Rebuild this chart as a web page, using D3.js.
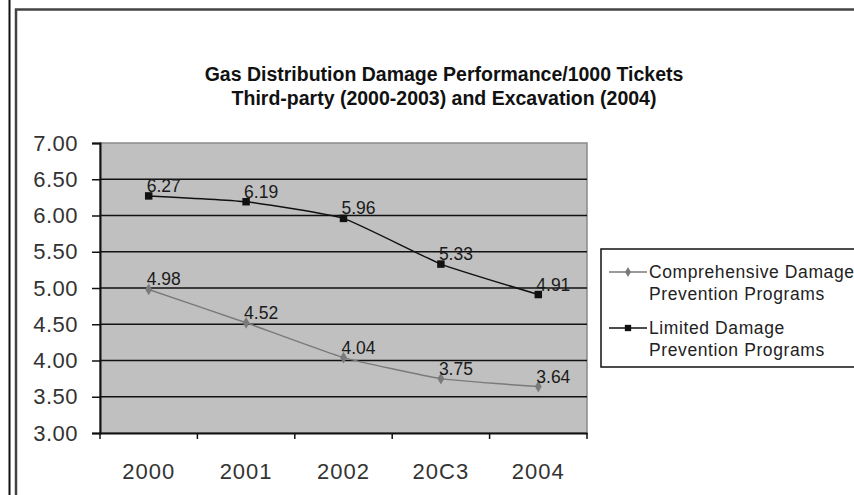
<!DOCTYPE html>
<html>
<head>
<meta charset="utf-8">
<script src="https://cdn.jsdelivr.net/npm/d3@7"></script>
<style>
  body { margin: 0; background: #fff; }
  svg { display: block; font-family: "Liberation Sans", Arial, sans-serif; }
</style>
</head>
<body>
<svg id="chart" width="854" height="495"></svg>
<script>
// data
const years = ["2000", "2001", "2002", "2003", "2004"];
const yearLabels = ["2000", "2001", "2002", "20C3", "2004"];
const comprehensive = [4.98, 4.52, 4.04, 3.75, 3.64];
const limited = [6.27, 6.19, 5.96, 5.33, 4.91];
const yTicks = [3.0, 3.5, 4.0, 4.5, 5.0, 5.5, 6.0, 6.5, 7.0];
const titleLines = [
    "Gas Distribution Damage Performance/1000 Tickets",
    "Third-party (2000-2003) and Excavation (2004)"
];
const seriesNames = [
    ["Comprehensive Damage", "Prevention Programs"],
    ["Limited Damage", "Prevention Programs"]
];

const svg = d3.select("#chart");
const W = 854, H = 495;
const plot = { left: 100, right: 587, top: 143, bottom: 433 };

svg.append("rect").attr("width", W).attr("height", H).attr("fill", "#fff");

// outer frame bits
svg.append("line")
    .attr("x1", 9.5).attr("x2", 9.5).attr("y1", 0).attr("y2", H)
    .attr("stroke", "#111").attr("stroke-width", 2);
svg.append("path")
    .attr("d", `M16,${H} V9.5 H${W}`)
    .attr("fill", "none").attr("stroke", "#444").attr("stroke-width", 2.5);

// title
svg.append("g").selectAll("text")
    .data(titleLines)
    .enter().append("text")
    .attr("x", 444)
    .attr("y", (d, i) => 81 + i * 24)
    .attr("text-anchor", "middle")
    .attr("font-size", 19.5)
    .attr("font-weight", "bold")
    .attr("fill", "#111")
    .text(d => d);

const x = d3.scaleBand().domain(years).range([plot.left, plot.right]);
const y = d3.scaleLinear().domain([3, 7]).range([plot.bottom, plot.top]);

// plot area
svg.append("rect")
    .attr("x", plot.left).attr("y", plot.top)
    .attr("width", plot.right - plot.left).attr("height", plot.bottom - plot.top)
    .attr("fill", "#c0c0c0").attr("stroke", "#8a8a8a").attr("stroke-width", 1.5);

// gridlines
svg.append("g").selectAll("line")
    .data(yTicks.filter(t => t > 3 && t < 7))
    .enter().append("line")
    .attr("x1", plot.left).attr("x2", plot.right)
    .attr("y1", d => y(d)).attr("y2", d => y(d))
    .attr("stroke", "#111").attr("stroke-width", 1.5);

// y axis
const yAxis = svg.append("g")
    .attr("transform", `translate(${plot.left},0)`)
    .call(d3.axisLeft(y).tickValues(yTicks).tickFormat(d3.format(".2f")).tickSize(8).tickPadding(14));
yAxis.select(".domain").attr("stroke", "#111").attr("stroke-width", 2);
yAxis.selectAll(".tick line").attr("stroke", "#111").attr("stroke-width", 1.5);
yAxis.selectAll("text")
    .attr("font-size", 22).attr("fill", "#333")
    .attr("font-family", "Liberation Sans, Arial, sans-serif")
    .attr("letter-spacing", 0.5);

// x axis, ticks at band edges
const xAxis = svg.append("g")
    .attr("transform", `translate(0,${plot.bottom})`)
    .call(d3.axisBottom(x).tickSize(0).tickPadding(30).tickFormat((d, i) => yearLabels[i]));
xAxis.select(".domain").attr("stroke", "#111").attr("stroke-width", 2);
xAxis.selectAll("text")
    .attr("font-size", 22).attr("fill", "#333")
    .attr("font-family", "Liberation Sans, Arial, sans-serif")
    .attr("letter-spacing", 1);
svg.append("g").selectAll("line")
    .data(years.map(d => x(d)).concat([plot.right]))
    .enter().append("line")
    .attr("x1", d => d).attr("x2", d => d)
    .attr("y1", plot.bottom).attr("y2", plot.bottom + 6)
    .attr("stroke", "#111").attr("stroke-width", 1.5);

const cx = d => x(d) + x.bandwidth() / 2;
const line = d3.line()
    .x((v, i) => cx(years[i]))
    .y(v => y(v))
    .curve(d3.curveCardinal.tension(0.6));

const series = [
    { values: comprehensive, color: "#7a7a7a", marker: "diamond" },
    { values: limited, color: "#111", marker: "square" }
];

series.forEach(s => {
    svg.append("path")
        .attr("d", line(s.values))
        .attr("fill", "none")
        .attr("stroke", s.color)
        .attr("stroke-width", 1.5);

    const sym = s.marker === "square"
        ? d3.symbol().type(d3.symbolSquare).size(56)
        : d3.symbol().type(d3.symbolDiamond).size(40);

    svg.append("g").selectAll("path")
        .data(s.values)
        .enter().append("path")
        .attr("transform", (v, i) => `translate(${cx(years[i])},${y(v)})`)
        .attr("d", sym)
        .attr("fill", s.color);

    svg.append("g").selectAll("text")
        .data(s.values)
        .enter().append("text")
        .attr("x", (v, i) => cx(years[i]) - 2)
        .attr("y", v => y(v) - 4)
        .attr("font-size", 17.5)
        .attr("fill", "#1a1a1a")
        .text(v => v.toFixed(2));
});

// legend
const legend = svg.append("g");
legend.append("rect")
    .attr("x", 601).attr("y", 249)
    .attr("width", 270).attr("height", 118)
    .attr("fill", "#fff").attr("stroke", "#111").attr("stroke-width", 1.5);

const legendY = [272, 328];
series.forEach((s, i) => {
    const ly = legendY[i];
    legend.append("line")
        .attr("x1", 609).attr("x2", 647).attr("y1", ly).attr("y2", ly)
        .attr("stroke", s.color).attr("stroke-width", 1.5);
    const sym = s.marker === "square"
        ? d3.symbol().type(d3.symbolSquare).size(40)
        : d3.symbol().type(d3.symbolDiamond).size(30);
    legend.append("path")
        .attr("transform", `translate(628,${ly})`)
        .attr("d", sym).attr("fill", s.color);
    legend.selectAll(null)
        .data(seriesNames[i])
        .enter().append("text")
        .attr("x", 649)
        .attr("y", (d, j) => ly + 6 + j * 22)
        .attr("font-size", 17.5)
        .attr("letter-spacing", 0.6)
        .attr("fill", "#222")
        .text(d => d);
});
</script>
</body>
</html>
